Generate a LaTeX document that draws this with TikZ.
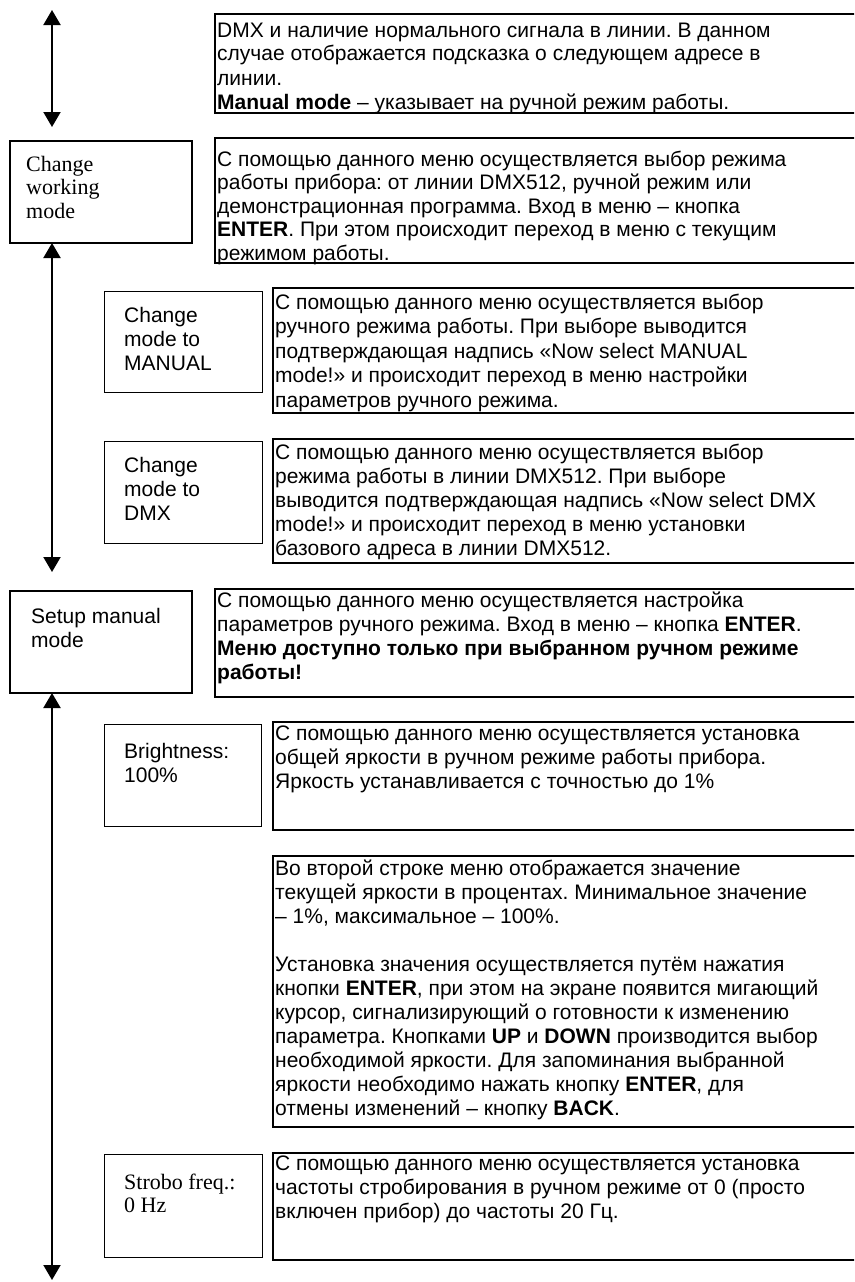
\documentclass[tikz,border=0pt]{standalone}
\usepackage{fontspec}
\setmainfont{Liberation Serif}
\newfontfamily\arialf{Liberation Sans}
\usetikzlibrary{arrows.meta}
\frenchspacing
\tikzset{
  rbox/.style={draw, line width=1.8pt, minimum width=700pt, anchor=north west, inner sep=0pt},
  lbox/.style={draw, line width=1.3pt, anchor=north west, inner sep=0pt},
  txt/.style={anchor=base west, inner sep=0pt},
  rtext/.style={txt, font=\arialf\fontsize{21}{24}\selectfont\frenchspacing},
  ltext/.style={txt, font=\arialf\fontsize{21}{24}\selectfont},
  ttext/.style={txt, font=\fontsize{22}{23.5}\selectfont},
  arr/.style={line width=2pt, {Triangle[width=17pt,length=15pt]}-{Triangle[width=17pt,length=15pt]}},
}
\newcommand{\rpar}[1]{\parbox[t]{640pt}{\raggedright #1}}
\newcommand{\lpar}[1]{\parbox[t]{200pt}{\raggedright #1}}
\begin{document}
\begin{tikzpicture}[x=1pt,y=-1pt]
\useasboundingbox (0,0) rectangle (854,1282);
\clip (0,0) rectangle (854,1282);
\fill[white] (0,0) rectangle (854,1282);
% right boxes
\node[rbox, minimum height=99pt]  (ra) at (214,13) {};
\node[rbox, minimum height=125pt] (rb) at (214,137) {};
\node[rbox, minimum height=125pt] (rc) at (272,287) {};
\node[rbox, minimum height=124pt] (rd) at (272,438) {};
\node[rbox, minimum height=108pt] (re) at (214,588) {};
\node[rbox, minimum height=108pt] (rf) at (272,721) {};
\node[rbox, minimum height=271pt] (rg) at (272,855) {};
\node[rbox, minimum height=107pt] (rh) at (272,1152) {};
% left boxes
\node[lbox, line width=1.6pt, minimum width=182pt, minimum height=102pt] (cwm) at (9,140) {};
\node[lbox, minimum width=158pt, minimum height=101pt] (cmm) at (104,291) {};
\node[lbox, minimum width=158pt, minimum height=102pt] (cmd) at (104,441) {};
\node[lbox, line width=1.6pt, minimum width=182pt, minimum height=102pt] (smm) at (9,590) {};
\node[lbox, minimum width=157pt, minimum height=102pt] (br) at (104,724) {};
\node[lbox, minimum width=158pt, minimum height=103pt] (sf) at (104,1154) {};
% left texts
\node[ttext] (tcwm) at (26,171) {\lpar{Change\\working\\mode}};
\node[ltext] (tcmm) at (124,322) {\lpar{Change\\mode to\\MANUAL}};
\node[ltext] (tcmd) at (124,472) {\lpar{Change\\mode to\\DMX}};
\node[ltext] (tsmm) at (31,623) {\lpar{Setup manual\\mode}};
\node[ltext] (tbr) at (124,758) {\lpar{Brightness:\\100\%}};
\node[ttext] (tsf) at (124,1189) {\lpar{Strobo freq.:\\0 Hz}};
% right texts
\node[rtext] (ta) at (217,37) {\rpar{DMX и наличие нормального сигнала в линии. В данном\\
случае отображается подсказка о следующем адресе в\\
линии.\\
\textbf{Manual mode} – указывает на ручной режим работы.}};
\node[rtext, font=\arialf\fontsize{21}{23.5}\selectfont] (tb) at (217,166) {\rpar{С помощью данного меню осуществляется выбор режима\\
работы прибора: от линии DMX512, ручной режим или\\
демонстрационная программа. Вход в меню – кнопка\\
\textbf{ENTER}. При этом происходит переход в меню с текущим\\
режимом работы.}};
\node[rtext, font=\arialf\fontsize{21}{24.5}\selectfont] (tc) at (275,309) {\rpar{С помощью данного меню осуществляется выбор\\
ручного режима работы. При выборе выводится\\
подтверждающая надпись «Now select MANUAL\\
mode!» и происходит переход в меню настройки\\
параметров ручного режима.}};
\node[rtext] (td) at (275,459) {\rpar{С помощью данного меню осуществляется выбор\\
режима работы в линии DMX512. При выборе\\
выводится подтверждающая надпись «Now select DMX\\
mode!» и происходит переход в меню установки\\
базового адреса в линии DMX512.}};
\node[rtext] (te) at (217,607) {\rpar{С помощью данного меню осуществляется настройка\\
параметров ручного режима. Вход в меню – кнопка \textbf{ENTER}.\\
\textbf{Меню доступно только при выбранном ручном режиме}\\
\textbf{работы!}}};
\node[rtext] (tf) at (275,740) {\rpar{С помощью данного меню осуществляется установка\\
общей яркости в ручном режиме работы прибора.\\
Яркость устанавливается с точностью до 1\%}};
\node[rtext] (tg) at (275,875) {\rpar{Во второй строке меню отображается значение\\
текущей яркости в процентах. Минимальное значение\\
– 1\%, максимальное – 100\%.\\
\mbox{}\\
Установка значения осуществляется путём нажатия\\
кнопки \textbf{ENTER}, при этом на экране появится мигающий\\
курсор, сигнализирующий о готовности к изменению\\
параметра. Кнопками \textbf{UP} и \textbf{DOWN} производится выбор\\
необходимой яркости. Для запоминания выбранной\\
яркости необходимо нажать кнопку \textbf{ENTER}, для\\
отмены изменений – кнопку \textbf{BACK}.}};
\node[rtext] (th) at (275,1170) {\rpar{С помощью данного меню осуществляется установка\\
частоты стробирования в ручном режиме от 0 (просто\\
включен прибор) до частоты 20 Гц.}};
% arrows
\coordinate (a1t) at (52,10);
\coordinate (a1b) at (52,127);
\coordinate (a2t) at (52,243);
\coordinate (a2b) at (52,572);
\coordinate (a3t) at (52,693);
\coordinate (a3b) at (52,1280);
\draw[arr] (a1t) -- (a1b);
\draw[arr] (a2t) -- (a2b);
\draw[arr] (a3t) -- (a3b);
\end{tikzpicture}
\end{document}
